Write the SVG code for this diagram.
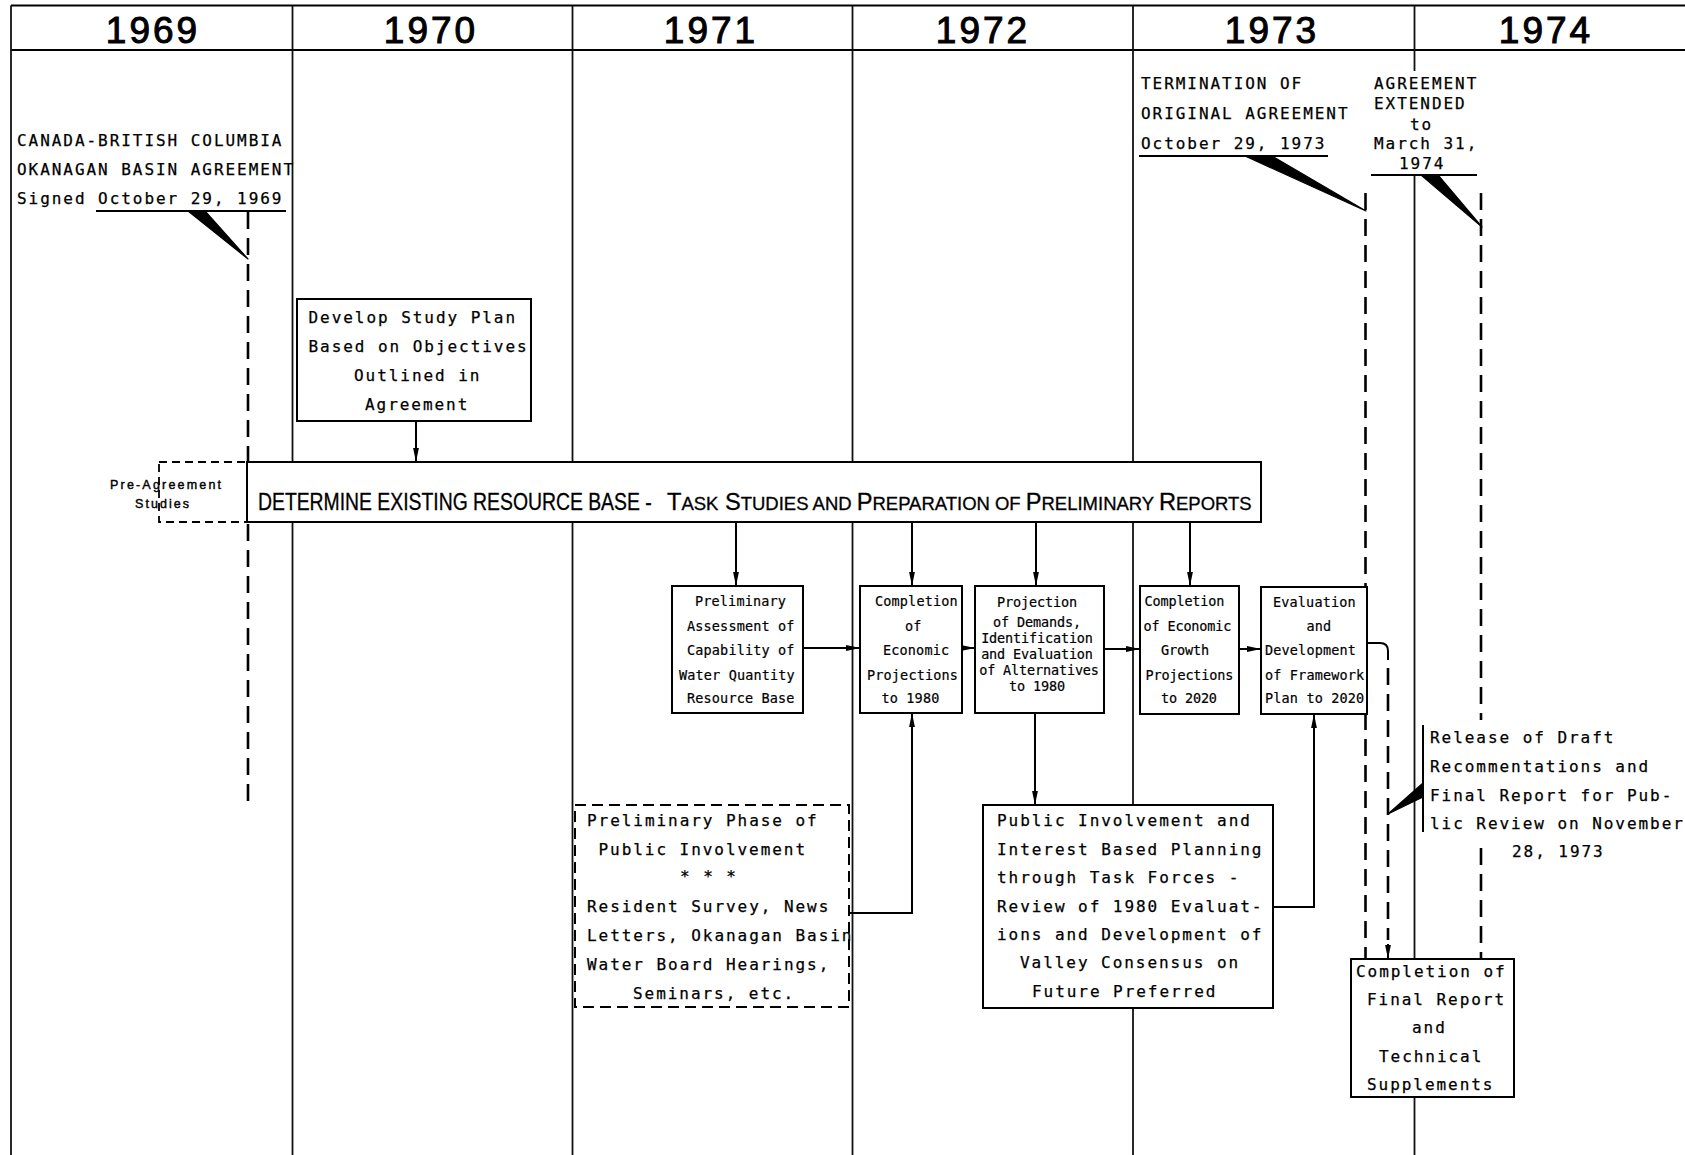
<svg xmlns="http://www.w3.org/2000/svg" width="1685" height="1155" viewBox="0 0 1685 1155">
<defs>
<style>
.frame{stroke:#000;stroke-width:2;fill:none}
.col{stroke:#111;stroke-width:1.8;fill:none}
.ln{stroke:#000;stroke-width:2;fill:none}
.dash{stroke:#000;stroke-width:2.6;stroke-dasharray:17 9;fill:none}
.box{fill:#fff;stroke:#000;stroke-width:2}
.dbox{fill:#fff;stroke:#000;stroke-width:2;stroke-dasharray:11 6}
.pbox{fill:none;stroke:#000;stroke-width:1.8;stroke-dasharray:8 5}
.wedge{fill:#000;stroke:#000;stroke-width:1.2;stroke-linejoin:round}
.yr{font-family:"Liberation Sans",Arial,sans-serif;font-size:37px;letter-spacing:3px;text-anchor:middle;fill:#000;stroke:#000;stroke-width:1}
.t{font-family:"DejaVu Sans Mono","Liberation Mono",monospace;font-size:16px;letter-spacing:1.95px;fill:#000;stroke:#000;stroke-width:0.25}
.s{font-family:"DejaVu Sans Mono","Liberation Mono",monospace;font-size:13.5px;letter-spacing:0.15px;fill:#000;stroke:#000;stroke-width:0.2}
.sc{font-family:"DejaVu Sans Mono","Liberation Mono",monospace;font-size:13.5px;letter-spacing:-0.15px;fill:#000;stroke:#000;stroke-width:0.2}
.bar{font-family:"Liberation Sans",Arial,sans-serif;font-size:23px;fill:#000;stroke:#000;stroke-width:0.3}
.pre{font-family:"Liberation Sans",Arial,sans-serif;font-size:12.5px;fill:#000;stroke:#000;stroke-width:0.4}
</style>
<marker id="ah" markerUnits="userSpaceOnUse" viewBox="0 0 14 7" markerWidth="14" markerHeight="7" refX="14" refY="3.5" orient="auto">
<path d="M0,0.6 L14,3.5 L0,6.4 z" fill="#000"/>
</marker>
</defs>
<rect width="1685" height="1155" fill="#fff"/>

<g id="grid">
<line class="frame" x1="11" y1="5.5" x2="1685" y2="5.5"/>
<line class="frame" x1="11" y1="50" x2="1685" y2="50"/>
<line class="col" x1="11" y1="5.5" x2="11" y2="1155"/>
<line class="col" x1="292.5" y1="5.5" x2="292.5" y2="1155"/>
<line class="col" x1="572.5" y1="5.5" x2="572.5" y2="1155"/>
<line class="col" x1="852.5" y1="5.5" x2="852.5" y2="1155"/>
<line class="col" x1="1133" y1="5.5" x2="1133" y2="1155"/>
<line class="col" x1="1414.5" y1="5.5" x2="1414.5" y2="71"/>
<line class="col" x1="1414.5" y1="174" x2="1414.5" y2="1155"/>
<text class="yr" x="153" y="43">1969</text>
<text class="yr" x="431" y="43">1970</text>
<text class="yr" x="711" y="43">1971</text>
<text class="yr" x="983" y="43">1972</text>
<text class="yr" x="1272" y="43">1973</text>
<text class="yr" x="1546" y="43">1974</text>
</g>

<g id="milestone-1969">
<text class="t" x="17" y="146">CANADA-BRITISH COLUMBIA</text>
<text class="t" x="17" y="175">OKANAGAN BASIN AGREEMENT</text>
<text class="t" x="17" y="204">Signed October 29, 1969</text>
<line class="ln" x1="96" y1="211" x2="286" y2="211"/>
<polygon class="wedge" points="188,211 205,211 248,259"/>
</g>

<g id="milestone-termination">
<text class="t" x="1141" y="89">TERMINATION OF</text>
<text class="t" x="1141" y="119">ORIGINAL AGREEMENT</text>
<text class="t" x="1141" y="149">October 29, 1973</text>
<line class="ln" x1="1139" y1="156" x2="1328" y2="156"/>
<polygon class="wedge" points="1245,156 1272,156 1366,211"/>
</g>

<g id="milestone-extended">
<text class="t" x="1374" y="89">AGREEMENT</text>
<text class="t" x="1374" y="109">EXTENDED</text>
<text class="t" x="1410" y="130">to</text>
<text class="t" x="1374" y="149">March 31,</text>
<text class="t" x="1399" y="169">1974</text>
<line class="ln" x1="1371" y1="175" x2="1477" y2="175"/>
<polygon class="wedge" points="1421,175 1438,175 1482,227"/>
</g>

<g id="milestone-release">
<line class="ln" x1="1423" y1="725" x2="1423" y2="832"/>
<polygon class="wedge" points="1388,814 1423,783 1423,797"/>
<text class="t" x="1430" y="743">Release of Draft</text>
<text class="t" x="1430" y="772">Recommentations and</text>
<text class="t" x="1430" y="801">Final Report for Pub-</text>
<text class="t" x="1430" y="829">lic Review on November</text>
<text class="t" x="1512" y="857">28, 1973</text>
</g>

<g id="connectors">
<path class="dash" d="M248,212 V804"/>
<path class="dash" d="M1365.5,193 V959"/>
<path class="dash" d="M1481,193 V720"/>
<path class="dash" d="M1481,848 V959"/>
<path class="ln" d="M1367,643 H1380 Q1388,643 1388,651 V660"/>
<path class="dash" d="M1388,668 V940"/>
<path class="ln" d="M1388,944 V959" marker-end="url(#ah)"/>
<path class="ln" d="M416,421 V462" marker-end="url(#ah)"/>
<path class="ln" d="M736,523 V586" marker-end="url(#ah)"/>
<path class="ln" d="M912,523 V586" marker-end="url(#ah)"/>
<path class="ln" d="M1036,523 V586" marker-end="url(#ah)"/>
<path class="ln" d="M1190,523 V586" marker-end="url(#ah)"/>
<path class="ln" d="M803,648 H860" marker-end="url(#ah)"/>
<path class="ln" d="M962,648 H975" marker-end="url(#ah)"/>
<path class="ln" d="M1104,649 H1140" marker-end="url(#ah)"/>
<path class="ln" d="M1239,649 H1261" marker-end="url(#ah)"/>
<path class="ln" d="M1035,713 V805" marker-end="url(#ah)"/>
<path class="ln" d="M849,913 H912 V713" marker-end="url(#ah)"/>
<path class="ln" d="M1273,907 H1314 V714" marker-end="url(#ah)"/>
</g>

<g id="develop-study-plan">
<rect class="box" x="297" y="299" width="234" height="122"/>
<text class="t" x="308.5" y="323">Develop Study Plan</text>
<text class="t" x="308.5" y="352">Based on Objectives</text>
<text class="t" x="354" y="381">Outlined in</text>
<text class="t" x="365" y="410">Agreement</text>
</g>

<g id="pre-agreement">
<rect class="pbox" x="159" y="462" width="88" height="60"/>
<text class="pre" x="110" y="489" textLength="111" lengthAdjust="spacing">Pre-Agreement</text>
<text class="pre" x="135" y="508" textLength="54" lengthAdjust="spacing">Studies</text>
</g>

<g id="resource-base">
<rect class="box" x="247" y="462" width="1014" height="60"/>
<text class="bar" transform="translate(258,510) scale(0.842,1)" x="0" y="0">DETERMINE EXISTING RESOURCE BASE -</text>
<text class="bar" transform="translate(667,510) scale(1.027,1)" x="0" y="0">T<tspan font-size="18">ASK</tspan> S<tspan font-size="18">TUDIES AND </tspan>P<tspan font-size="18">REPARATION OF </tspan>P<tspan font-size="18">RELIMINARY </tspan>R<tspan font-size="18">EPORTS</tspan></text>
</g>

<g id="water-quantity">
<rect class="box" x="672" y="586" width="131" height="127"/>
<text class="s" x="695" y="606">Preliminary</text>
<text class="s" x="687" y="631">Assessment of</text>
<text class="s" x="687" y="655">Capability of</text>
<text class="s" x="679" y="680">Water Quantity</text>
<text class="s" x="687" y="703">Resource Base</text>
</g>

<g id="econ-1980">
<rect class="box" x="860" y="586" width="102" height="127"/>
<text class="s" x="875" y="606">Completion</text>
<text class="s" x="905" y="631">of</text>
<text class="s" x="883" y="655">Economic</text>
<text class="s" x="867" y="680">Projections</text>
<text class="s" x="881.5" y="703">to 1980</text>
</g>

<g id="demands-1980">
<rect class="box" x="975" y="586" width="129" height="127"/>
<text class="sc" x="1037" y="607" text-anchor="middle">Projection</text>
<text class="sc" x="1037" y="627" text-anchor="middle">of Demands,</text>
<text class="sc" x="1037" y="643" text-anchor="middle">Identification</text>
<text class="sc" x="1037" y="659" text-anchor="middle">and Evaluation</text>
<text class="sc" x="1039" y="675" text-anchor="middle">of Alternatives</text>
<text class="sc" x="1037" y="691" text-anchor="middle">to 1980</text>
</g>

<g id="growth-2020">
<rect class="box" x="1140" y="586" width="99" height="128"/>
<text class="sc" x="1144.5" y="606">Completion</text>
<text class="sc" x="1143.5" y="631">of Economic</text>
<text class="sc" x="1161" y="655">Growth</text>
<text class="sc" x="1145.5" y="680">Projections</text>
<text class="sc" x="1161" y="703">to 2020</text>
</g>

<g id="framework-2020">
<rect class="box" x="1261" y="587" width="106" height="127"/>
<text class="s" x="1273" y="607">Evaluation</text>
<text class="s" x="1306.5" y="631">and</text>
<text class="s" x="1265" y="655">Development</text>
<text class="s" x="1265" y="680">of Framework</text>
<text class="s" x="1265" y="703">Plan to 2020</text>
</g>

<g id="public-preliminary">
<rect class="dbox" x="575" y="805" width="274" height="202"/>
<text class="t" x="587" y="826">Preliminary Phase of</text>
<text class="t" x="598.5" y="855">Public Involvement</text>
<text class="t" x="680" y="882">* * *</text>
<text class="t" x="587" y="912">Resident Survey, News</text>
<text class="t" x="587" y="941">Letters, Okanagan Basin</text>
<text class="t" x="587" y="970">Water Board Hearings,</text>
<text class="t" x="633" y="999">Seminars, etc.</text>
</g>

<g id="public-task-forces">
<rect class="box" x="983" y="805" width="290" height="203"/>
<text class="t" x="997" y="826">Public Involvement and</text>
<text class="t" x="997" y="855">Interest Based Planning</text>
<text class="t" x="997" y="883">through Task Forces -</text>
<text class="t" x="997" y="912">Review of 1980 Evaluat-</text>
<text class="t" x="997" y="940">ions and Development of</text>
<text class="t" x="1020" y="968">Valley Consensus on</text>
<text class="t" x="1032" y="997">Future Preferred</text>
</g>

<g id="final-report">
<rect class="box" x="1351" y="959" width="163" height="138"/>
<text class="t" x="1356" y="977">Completion of</text>
<text class="t" x="1367" y="1005">Final Report</text>
<text class="t" x="1412" y="1033">and</text>
<text class="t" x="1379" y="1062">Technical</text>
<text class="t" x="1367" y="1090">Supplements</text>
</g>
</svg>
